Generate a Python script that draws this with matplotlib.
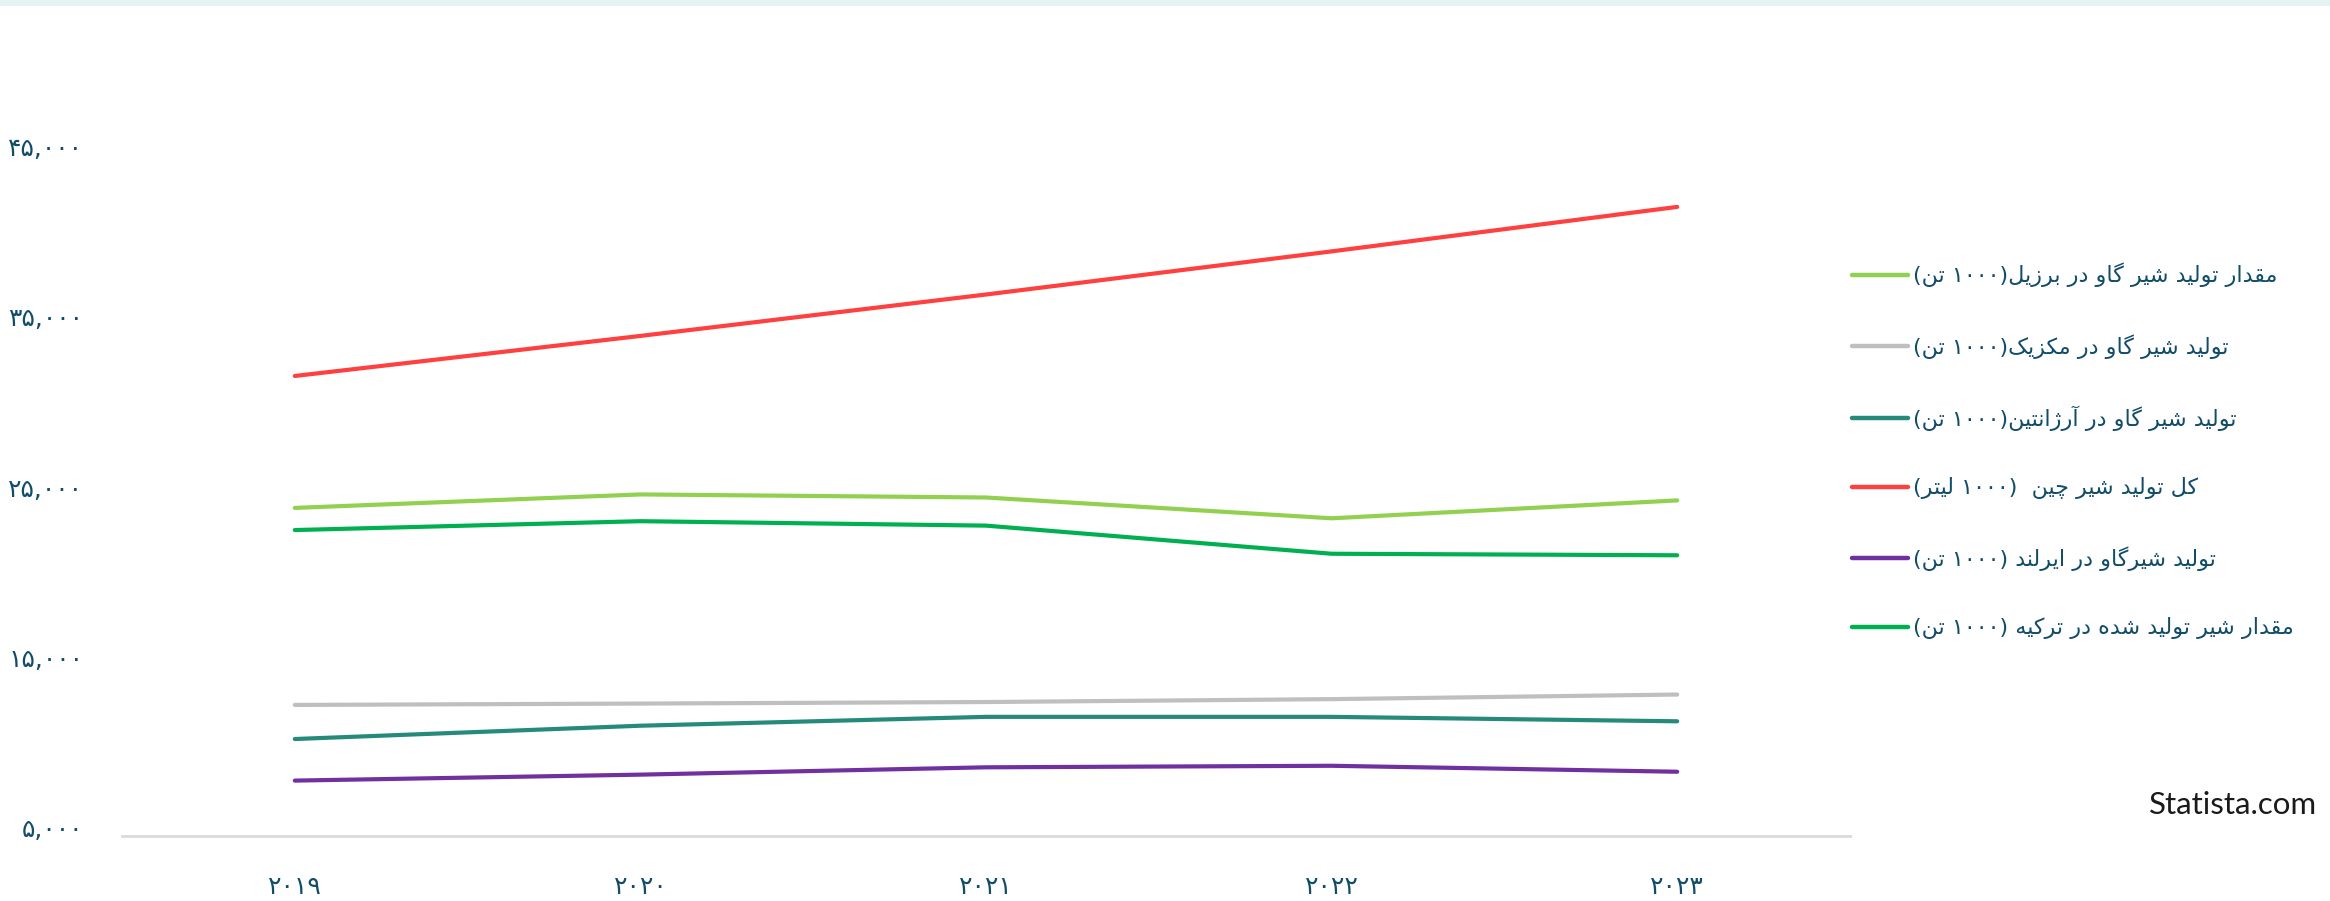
import matplotlib
matplotlib.use("Agg")
import matplotlib.pyplot as plt
from matplotlib.ticker import FixedLocator, FuncFormatter

# ---- data -------------------------------------------------------------
years = [2019, 2020, 2021, 2022, 2023]

brazil = [23780, 24570, 24390, 23170, 24220]
mexico = [12220, 12300, 12390, 12560, 12830]
argentina = [10220, 11000, 11520, 11520, 11260]
china = [31520, 33870, 36300, 38830, 41440]
ireland = [7780, 8130, 8560, 8650, 8300]
turkey = [22480, 23000, 22740, 21090, 21000]

labels = [
    "مقدار تولید شیر گاو در برزیل(۱۰۰۰ تن)",
    "تولید شیر گاو در مکزیک(۱۰۰۰ تن)",
    "تولید شیر گاو در آرژانتین(۱۰۰۰ تن)",
    "کل تولید شیر چین  (۱۰۰۰ لیتر)",
    "تولید شیرگاو در ایرلند (۱۰۰۰ تن)",
    "مقدار شیر تولید شده در ترکیه (۱۰۰۰ تن)",
]
colors = ["#92D050", "#BFBFBF", "#268A7A", "#FF4040", "#7030A0", "#00B050"]
y_ticks = [5000, 15000, 25000, 35000, 45000]
source = "Statista.com"

TEXT = "#114c69"

# ---- minimal Persian shaping + visual ordering ------------------------
# (isolated, final, initial, medial); None = letter does not join forward
FORMS = {
    "ا": ("\uFE8D", "\uFE8E", None, None),
    "آ": ("\uFE81", "\uFE82", None, None),
    "ب": ("\uFE8F", "\uFE90", "\uFE91", "\uFE92"),
    "ت": ("\uFE95", "\uFE96", "\uFE97", "\uFE98"),
    "د": ("\uFEA9", "\uFEAA", None, None),
    "ر": ("\uFEAD", "\uFEAE", None, None),
    "ز": ("\uFEAF", "\uFEB0", None, None),
    "ژ": ("\uFB8A", "\uFB8B", None, None),
    "ش": ("\uFEB5", "\uFEB6", "\uFEB7", "\uFEB8"),
    "ق": ("\uFED5", "\uFED6", "\uFED7", "\uFED8"),
    "ل": ("\uFEDD", "\uFEDE", "\uFEDF", "\uFEE0"),
    "م": ("\uFEE1", "\uFEE2", "\uFEE3", "\uFEE4"),
    "ن": ("\uFEE5", "\uFEE6", "\uFEE7", "\uFEE8"),
    "ه": ("\uFEE9", "\uFEEA", "\uFEEB", "\uFEEC"),
    "و": ("\uFEED", "\uFEEE", None, None),
    "ی": ("\uFBFC", "\uFBFD", "\uFBFE", "\uFBFF"),
    "ک": ("\uFB8E", "\uFB8F", "\uFB90", "\uFB91"),
    "گ": ("\uFB92", "\uFB93", "\uFB94", "\uFB95"),
    "چ": ("\uFB7A", "\uFB7B", "\uFB7C", "\uFB7D"),
}
FA_DIGITS = "۰۱۲۳۴۵۶۷۸۹"
MIRROR = {"(": ")", ")": "("}


def shape(s):
    out = []
    for i, ch in enumerate(s):
        if ch not in FORMS:
            out.append(ch)
            continue
        prev = s[i - 1] if i > 0 else None
        nxt = s[i + 1] if i + 1 < len(s) else None
        join_prev = prev in FORMS and FORMS[prev][2] is not None
        join_next = nxt in FORMS and FORMS[ch][2] is not None
        iso, fin, ini, med = FORMS[ch]
        if join_prev and join_next:
            out.append(med)
        elif join_prev:
            out.append(fin)
        elif join_next:
            out.append(ini)
        else:
            out.append(iso)
    return "".join(out)


def rtl(s):
    s = shape(s)
    runs, cur, cur_num = [], "", None
    for ch in s:
        is_num = ch in FA_DIGITS or ch == ","
        if cur and is_num != cur_num:
            runs.append((cur, cur_num))
            cur = ""
        cur += ch
        cur_num = is_num
    if cur:
        runs.append((cur, cur_num))
    parts = []
    for text, is_num in reversed(runs):
        if is_num:
            parts.append(text)
        else:
            parts.append("".join(MIRROR.get(c, c) for c in reversed(text)))
    return "".join(parts)


def fa_num(text):
    return text.translate(str.maketrans("0123456789", FA_DIGITS))


# ---- figure -----------------------------------------------------------
W, H = 2330, 901
fig = plt.figure(figsize=(W / 100, H / 100), dpi=100)
fig.patch.set_facecolor("white")

# thin tinted band along the top edge
fig.add_artist(plt.Rectangle((0, 1 - 6 / H), 1, 6 / H, transform=fig.transFigure,
                             facecolor="#e4f4f4", edgecolor="none"))

ax = fig.add_axes([122 / W, 1 - 836 / H, (1850 - 122) / W, (836 - 61) / H])
x = list(range(len(years)))
series = [brazil, mexico, argentina, china, ireland, turkey]
handles = []
for vals, col in zip(series, colors):
    (ln,) = ax.plot(x, vals, color=col, lw=3.0, solid_capstyle="round",
                    solid_joinstyle="round")
    handles.append(ln)

ax.set_xlim(-0.5, len(years) - 0.5)
ax.set_ylim(4530, 50000)
for side in ("top", "right", "left"):
    ax.spines[side].set_visible(False)
ax.spines["bottom"].set_color("#dadada")
ax.spines["bottom"].set_linewidth(2.0)

ax.xaxis.set_major_locator(FixedLocator(x))
ax.set_xticklabels([fa_num(str(y)) for y in years])
ax.yaxis.set_major_locator(FixedLocator(y_ticks))
ax.yaxis.set_major_formatter(FuncFormatter(lambda v, p: fa_num(f"{int(v):,}")))
ax.tick_params(axis="both", length=0, labelsize=18, labelcolor=TEXT,
               labelfontfamily="DejaVu Sans")
ax.tick_params(axis="y", pad=28)
ax.tick_params(axis="x", pad=28)

leg = fig.legend(handles, [rtl(t) for t in labels], loc="center left",
                 bbox_to_anchor=(1852 / W, 1 - 451 / H), frameon=False,
                 prop={"family": "DejaVu Sans", "size": 16.0},
                 handlelength=2.5, handletextpad=0.25, labelspacing=2.1,
                 borderpad=0, borderaxespad=0)
for t in leg.get_texts():
    t.set_color(TEXT)
for h in leg.legend_handles:
    h.set_linewidth(3.2)

fig.text(2317 / W, 1 - 805 / H, source, ha="right", va="center",
         fontsize=22.5, color="#1a1a1a", family="Lato")

fig.savefig("out.png", dpi=100, facecolor="white")
